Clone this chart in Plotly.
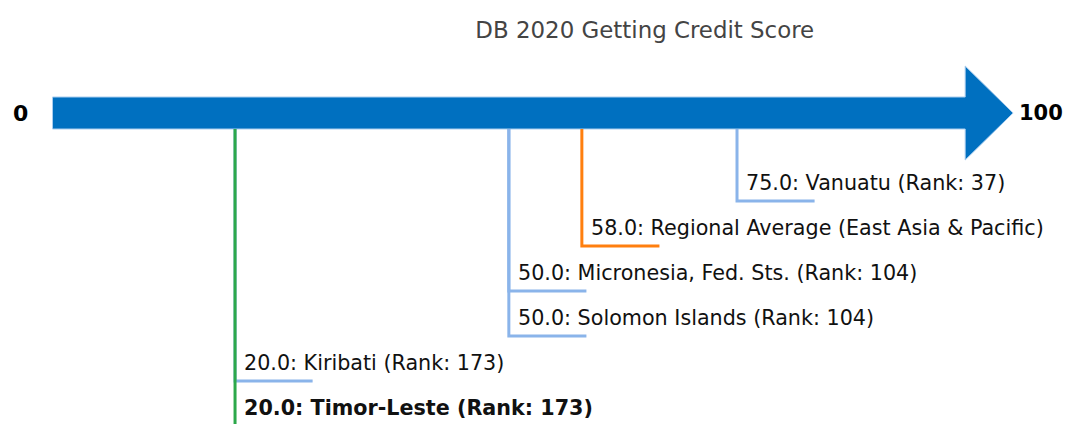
import plotly.graph_objects as go

# data, top row first
names = ["Vanuatu", "Regional Average (East Asia & Pacific)", "Micronesia, Fed. Sts.",
         "Solomon Islands", "Kiribati", "Timor-Leste"]
scores = [75.0, 58.0, 50.0, 50.0, 20.0, 20.0]
ranks = [37, None, 104, 104, 173, 173]
kinds = ["peer", "region", "peer", "peer", "peer", "self"]

title = "DB 2020 Getting Credit Score"
axis_min, axis_max = 0, 100

colors = {"peer": "#8ab4ea", "region": "#ff7f0e", "self": "#2ca84a"}
arrow_col = "#0070c0"

fig = go.Figure()

# main arrow
bar_top, bar_bot = 97, 129
head = 5.25
fig.add_trace(go.Scatter(
    x=[axis_min, axis_max, axis_max, axis_max + head, axis_max, axis_max, axis_min, axis_min],
    y=[bar_top, bar_top, 66, 113, 160, bar_bot, bar_bot, bar_top],
    fill="toself", fillcolor=arrow_col, mode="lines",
    line=dict(color="#a9cdef", width=1), hoverinfo="skip", showlegend=False))

row0, row_gap, tail = 201, 45, 8.5

# draw bottom rows first so the highlighted one sits on top
order = list(range(len(names)))[::-1]
order = [i for i in order if kinds[i] != "self"] + [i for i in order if kinds[i] == "self"]
for i in order:
    v = scores[i]
    yu = row0 + row_gap * i
    fig.add_trace(go.Scatter(
        x=[v, v, v + tail], y=[bar_bot, yu, yu], mode="lines",
        line=dict(color=colors[kinds[i]], width=3),
        hoverinfo="skip", showlegend=False))
    txt = f"{v:.1f}: {names[i]}"
    if ranks[i] is not None:
        txt += f" (Rank: {ranks[i]})"
    if kinds[i] == "self":
        txt = f"<b>{txt}</b>"
    fig.add_annotation(x=v, y=yu - 18, xref="x", yref="y", text=txt, showarrow=False,
                       xanchor="left", yanchor="middle", xshift=7,
                       font=dict(family="DejaVu Sans", size=20.7, color="#111111"))

fig.add_annotation(x=axis_min, y=113, text=f"<b>{axis_min}</b>", showarrow=False,
                   xanchor="center", yanchor="middle", xshift=-32,
                   font=dict(family="DejaVu Sans", size=22, color="#000000"))
fig.add_annotation(x=axis_max, y=113, text=f"<b>{axis_max}</b>", showarrow=False,
                   xanchor="center", yanchor="middle", xshift=76,
                   font=dict(family="DejaVu Sans", size=21, color="#000000"))

# page has an 8px body margin, so the figure is offset by 8px
fig.update_layout(
    width=1072, height=424,
    margin=dict(l=0, r=0, t=0, b=0),
    paper_bgcolor="white", plot_bgcolor="white",
    title=dict(text=title, x=0.594, xanchor="center", y=1 - 22 / 424, yanchor="middle",
               font=dict(family="DejaVu Sans", size=22.9, color="#444444")),
    xaxis=dict(range=[-4.876, 112.58], visible=False, fixedrange=True),
    yaxis=dict(range=[432, 8], visible=False, fixedrange=True),
    hovermode=False,
)

fig.write_html("out.html")
